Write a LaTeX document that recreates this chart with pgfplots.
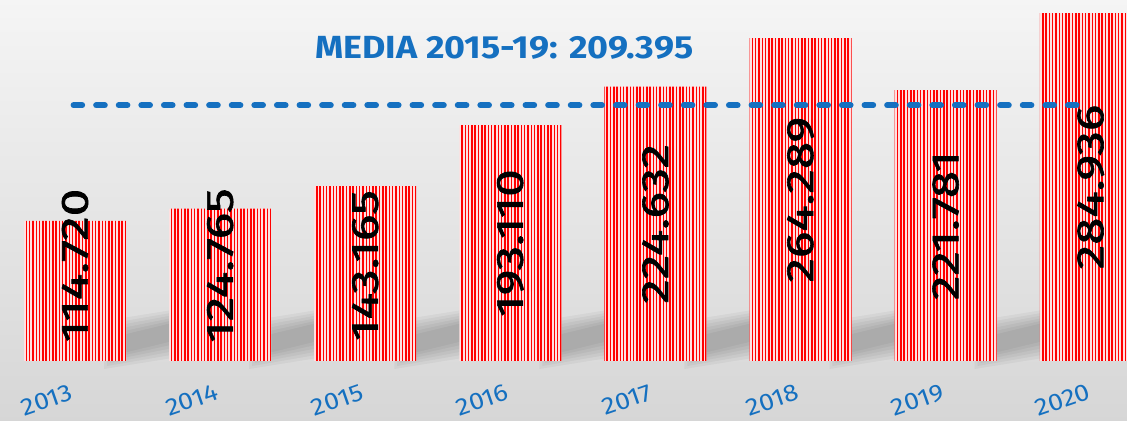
\documentclass[border=0pt]{standalone}
\usepackage{pgfplots}
\pgfplotsset{compat=1.18}
\usepackage{fontspec}
\setmainfont{Fira Sans}
\newfontfamily\lab{Fira Sans}[FakeBold=1.6]
\usetikzlibrary{patterns.meta}
\definecolor{mblue}{RGB}{21,112,192}
\begin{document}
\begin{tikzpicture}
\path[use as bounding box, top color=gray!8, bottom color=gray!32] (0,-30pt) rectangle (563.5pt,180.5pt);
\begin{axis}[at={(0,0)}, anchor=south west, scale only axis,
  width=563.5pt, height=180.5pt,
  xmin=-0.517, xmax=7.250, ymin=0, ymax=295600,
  axis line style={draw=none}, tick style={draw=none}, ytick=\empty,
  xtick={0,1,2,3,4,5,6,7},
  xticklabels={2013,2014,2015,2016,2017,2018,2019,2020},
  xticklabel style={font=\fontsize{12}{14}\selectfont, text=mblue, xshift=-14pt, yshift=-19.5pt, rotate=19, xscale=1.12, anchor=center},
  clip=false]
% soft shadows between bars (decoration)
\foreach \i in {0,...,6}{
  \foreach \k in {0,...,5}{
    \edef\tmp{\noexpand\fill[black, opacity=0.04] (axis cs:\i+0.30-0.02*\k,5730-2456*\k) -- (axis cs:\i+0.30-0.02*\k,20470+2456*\k) -- (axis cs:\i+0.70+0.02*\k,31930+2456*\k) -- (axis cs:\i+0.70+0.02*\k,17200-2456*\k) -- cycle;}
    \tmp
  }
}
\addplot[ybar, bar width=51pt, draw=none, fill=red!12,
  postaction={pattern={Lines[angle=90,distance=1.65pt,line width=0.72pt]}, pattern color=red}]
  coordinates {(0,114720) (1,124765) (2,143165) (3,193110) (4,224632) (5,264289) (6,221781) (7,284936)};
\addplot[mblue, line width=3pt, line cap=round, dash pattern=on 4.3pt off 7pt]
  coordinates {(-0.01,209395) (6.97,209395)};
\addplot[only marks, mark=none, nodes near coords, point meta=explicit symbolic,
  nodes near coords style={rotate=90, xscale=1.3, anchor=center, inner sep=0pt, text=black, font=\lab\fontsize{19}{21}\selectfont}]
  table[meta=label] {
x y label
0 78200 114.720
1 78200 124.765
2 78200 143.165
3 96555 193.110
4 112316 224.632
5 132145 264.289
6 110890 221.781
7 142468 284.936
};
\node[text=mblue, xscale=1.12, font=\bfseries\fontsize{16}{18}\selectfont] at (axis cs:2.96,256300) {MEDIA 2015-19: 209.395};
\end{axis}
\end{tikzpicture}
\end{document}
